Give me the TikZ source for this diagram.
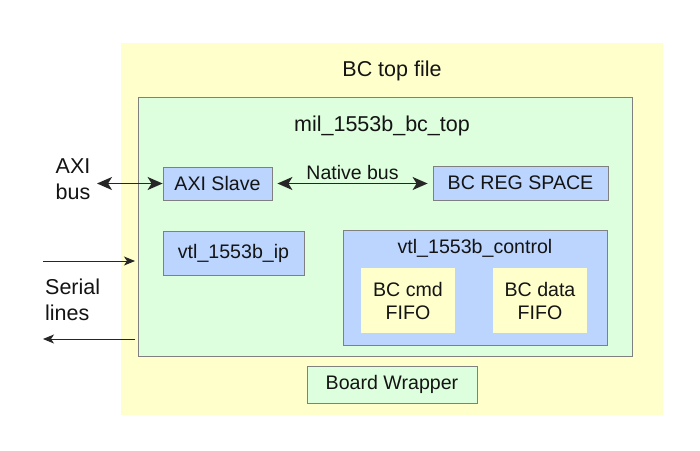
\documentclass[tikz,border=0pt]{standalone}
\usepackage{fontspec}
\setmainfont{Liberation Sans}
\usetikzlibrary{arrows.meta}
\definecolor{bgyellow}{RGB}{255,255,204}
\definecolor{bggreen}{RGB}{221,255,221}
\definecolor{bgblue}{RGB}{187,213,255}
\definecolor{edgegray}{RGB}{128,128,128}
\definecolor{txt}{RGB}{20,20,20}
\tikzset{
  blk/.style={draw=edgegray, line width=0.8pt, inner sep=0pt, text=txt, font=\fontsize{19.6}{23}\selectfont, align=center},
  bluebox/.style={blk, fill=bgblue},
  yelbox/.style={blk, fill=bgyellow},
  grnbox/.style={blk, fill=bggreen},
  lbl/.style={text=txt, font=\fontsize{21.5}{26}\selectfont, inner sep=0pt},
  bigarrow/.style={line width=1.6pt, draw=black!85, {Stealth[length=15pt,width=13pt,inset=4pt]}-{Stealth[length=15pt,width=13pt,inset=4pt]}},
  thinarrow/.style={line width=1pt, draw=black!85, -{Stealth[length=11pt,width=9pt,inset=3pt]}},
}
\begin{document}
\begin{tikzpicture}[x=1pt,y=-1pt]
\useasboundingbox (0,0) rectangle (700,450);
\fill[white] (0,0) rectangle (700,450);
% outer
\node[fill=bgyellow, inner sep=0pt, minimum width=542pt, minimum height=372pt] (top) at (392,229) {};
\node[lbl] (toplbl) at (392,71) {BC top file};
\node[grnbox, minimum width=494pt, minimum height=259pt] (mil) at (385,226.5) {};
\node[lbl] (millbl) at (382,126) {mil\_1553b\_bc\_top};
\node[bluebox, minimum width=109pt, minimum height=33pt] (axi) at (217.5,183.5) {AXI Slave};
\node[bluebox, minimum width=175pt, minimum height=34pt] (reg) at (520.5,183) {BC REG SPACE};
\node[bluebox, minimum width=141pt, minimum height=44pt] (ip) at (233.5,253) {vtl\_1553b\_ip};
\node[bluebox, minimum width=264pt, minimum height=115pt] (ctl) at (475,287.5) {};
\node[lbl, font=\fontsize{19.6}{23}\selectfont] (ctllbl) at (475,248) {vtl\_1553b\_control};
\node[yelbox, draw=none, minimum width=94pt, minimum height=65pt] (cmd) at (408,300.5) {BC cmd\\FIFO};
\node[yelbox, draw=none, minimum width=94pt, minimum height=65pt] (data) at (540,300.5) {BC data\\FIFO};
\node[grnbox, minimum width=170pt, minimum height=37pt] (bw) at (392,384.5) {Board Wrapper};
% AXI bus
\node[lbl, align=center] (axilbl) at (73,179) {AXI\\bus};
\coordinate (axiL) at (97,183.5);
\draw[bigarrow] (axiL) -- (axi.west);
% native bus
\draw[bigarrow] ([xshift=5pt]axi.east) -- node[lbl, above=3pt, font=\fontsize{19.5}{23}\selectfont] (nb) {Native bus} ([xshift=-5pt]reg.west|-axi.east);
% serial lines
\node[lbl, align=left, anchor=west] (serlbl) at (45,300) {Serial\\lines};
\coordinate (s1a) at (43,261);
\coordinate (s1b) at (135,261);
\coordinate (s2a) at (135,339);
\coordinate (s2b) at (43,339);
\draw[thinarrow] (s1a) -- (s1b);
\draw[thinarrow] (s2a) -- (s2b);
\end{tikzpicture}
\end{document}
